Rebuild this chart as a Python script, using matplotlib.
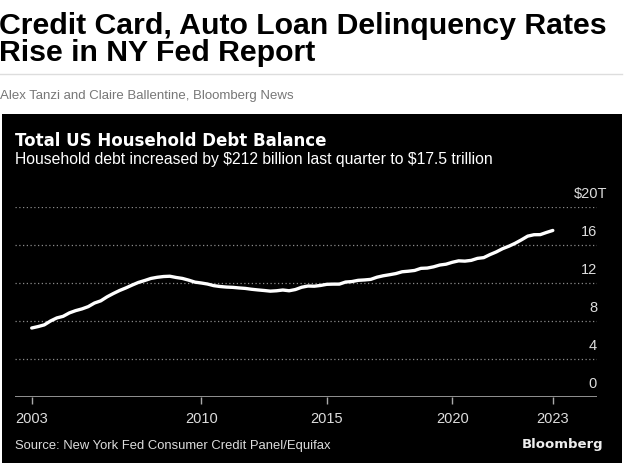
import matplotlib
matplotlib.use('Agg')
import matplotlib.pyplot as plt
from matplotlib.patches import Rectangle
from matplotlib.lines import Line2D
import numpy as np

# quarterly household debt, trillions of dollars, 2003Q1 .. 2023Q4
years = list(range(2003, 2024))
debt = [
    7.23, 7.38, 7.56, 7.97,
    8.29, 8.46, 8.82, 9.06,
    9.24, 9.48, 9.86, 10.09,
    10.51, 10.86, 11.18, 11.45,
    11.75, 12.03, 12.23, 12.45,
    12.57, 12.65, 12.68, 12.55,
    12.45, 12.27, 12.06, 11.97,
    11.86, 11.69, 11.60, 11.54,
    11.51, 11.45, 11.40, 11.31,
    11.24, 11.18, 11.11, 11.15,
    11.23, 11.15, 11.28, 11.52,
    11.65, 11.63, 11.71, 11.83,
    11.85, 11.85, 12.07, 12.12,
    12.25, 12.29, 12.35, 12.58,
    12.73, 12.84, 12.96, 13.15,
    13.21, 13.29, 13.51, 13.54,
    13.67, 13.86, 13.95, 14.15,
    14.30, 14.27, 14.35, 14.56,
    14.64, 14.96, 15.24, 15.58,
    15.84, 16.15, 16.51, 16.90,
    17.05, 17.06, 17.29, 17.50,
]
# quarter-end positions as decimal years
qx = np.array([y + q / 4 for y in years for q in range(1, 5)])

xtick_pos = [qx[0], 2010, 2015, 2020, qx[-1]]
xtick_labels = ['2003', '2010', '2015', '2020', '2023']
ytick_vals = [0, 4, 8, 12, 16, 20]
ytick_labels = ['0', '4', '8', '12', '16', '$20T']

title_lines = ['Credit Card, Auto Loan Delinquency Rates', 'Rise in NY Fed Report']
byline = 'Alex Tanzi and Claire Ballentine, Bloomberg News'
chart_title = 'Total US Household Debt Balance'
chart_sub = 'Household debt increased by $212 billion last quarter to $17.5 trillion'
source = 'Source: New York Fed Consumer Credit Panel/Equifax'

W, H = 628, 467
fig = plt.figure(figsize=(W / 100, H / 100), dpi=100)
fig.patch.set_facecolor('white')

def fx(px):
    return px / W

def fy(py):
    return 1 - py / H

sans = 'Liberation Sans'

# header
for line, base in zip(title_lines, [34, 61]):
    fig.text(fx(-1), fy(base), line, fontsize=21.8, fontweight='bold',
             family=sans, color='black', va='baseline')
fig.add_artist(Line2D([fx(0), fx(622)], [fy(74), fy(74)],
                      color='#dddddd', lw=1))
fig.text(fx(0), fy(99), byline, fontsize=9.5, family=sans,
         color='#777777', va='baseline')

# black panel
fig.add_artist(Rectangle((fx(2), fy(463)), fx(620), (463 - 114) / H,
                         facecolor='black', edgecolor='none', zorder=0))

fig.text(fx(15), fy(146), chart_title, fontsize=12, fontweight='bold',
         family='DejaVu Sans', color='white', va='baseline')
fig.text(fx(15), fy(164), chart_sub, fontsize=11.3, family=sans,
         color='white', va='baseline', parse_math=False)
fig.text(fx(15), fy(449), source, fontsize=9.35, family=sans,
         color='#dddddd', va='baseline')
fig.text(fx(603), fy(448), 'Bloomberg', fontsize=9.5, fontweight='bold',
         family='DejaVu Sans', color='#eeeeee', va='baseline', ha='right')

# chart area
ax_l, ax_r = 15, 597
ax_b, ax_t = 396.7, 206.7
ax = fig.add_axes([fx(ax_l), fy(ax_b), (ax_r - ax_l) / W, (ax_b - ax_t) / H])
ax.set_facecolor('none')
ax.set_xlim(2002.585, 2025.76)
ax.set_ylim(0, 20)

for v in ytick_vals[1:]:
    ax.axhline(v, color='#8a8a8a', lw=0.9, ls=(0, (1, 2)), zorder=1)
ax.axhline(0, color='#aaaaaa', lw=1.2, zorder=1)

ax.plot(qx, debt, color='white', lw=2.4, solid_capstyle='round',
        solid_joinstyle='round', zorder=3, clip_on=False)

for s in ax.spines.values():
    s.set_visible(False)
ax.set_yticks([])
ax.set_xticks(xtick_pos)
ax.set_xticklabels(xtick_labels, family=sans, fontsize=10.5, color='#dddddd')
ax.tick_params(axis='x', length=5, width=1, color='#aaaaaa', pad=6)

for v, lab in zip(ytick_vals, ytick_labels):
    dx = 7.5 if lab.endswith('T') else 0
    ax.annotate(lab, xy=(1, v), xycoords=('axes fraction', 'data'),
                xytext=(dx, 4), textcoords='offset points',
                ha='right', va='bottom', family=sans, fontsize=10.5,
                color='#dddddd', parse_math=False)

fig.savefig('out.png', dpi=100, facecolor='white')
